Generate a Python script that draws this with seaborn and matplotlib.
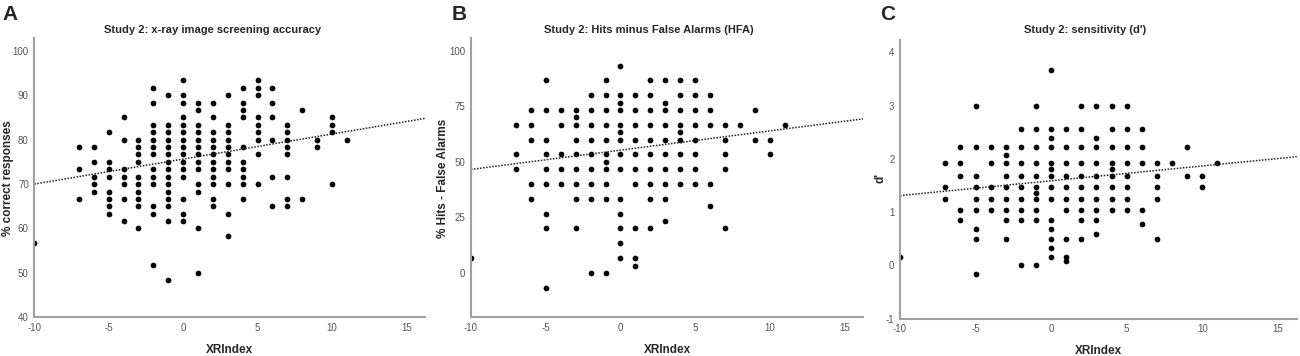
import numpy as np
import pandas as pd
import seaborn as sns
import matplotlib.pyplot as plt

# XRIndex -> values (overlapping points show once)
accuracy = {
    -10: [56.67],
    -7: [78.33, 73.33, 66.67],
    -6: [78.33, 75, 71.67, 70, 68.33],
    -5: [81.67, 75, 73.33, 71.67, 68.33, 66.67, 65, 63.33],
    -4: [85, 80, 73.33, 71.67, 70, 66.67, 61.67],
    -3: [80, 78.33, 76.67, 75, 71.67, 70, 68.33, 66.67, 65, 60],
    -2: [91.67, 88.33, 83.33, 81.67, 80, 78.33, 76.67, 73.33, 71.67, 70, 65, 63.33, 51.67],
    -1: [90, 83.33, 81.67, 80, 78.33, 76.67, 75, 73.33, 71.67, 70, 68.33, 66.67, 65, 61.67, 48.33],
    0: [93.33, 90, 88.33, 85, 83.33, 81.67, 80, 78.33, 76.67, 75, 73.33, 71.67, 66.67, 63.33, 61.67],
    1: [88.33, 86.67, 83.33, 81.67, 80, 78.33, 76.67, 75, 73.33, 70, 68.33, 60, 50],
    2: [88.33, 85, 81.67, 80, 78.33, 76.67, 75, 73.33, 71.67, 70, 66.67, 65],
    3: [90, 83.33, 81.67, 80, 78.33, 76.67, 75, 73.33, 70, 63.33, 58.33],
    4: [91.67, 88.33, 86.67, 85, 78.33, 75, 73.33, 71.67, 70, 66.67],
    5: [93.33, 91.67, 90, 85, 83.33, 81.67, 80, 76.67, 70],
    6: [91.67, 88.33, 85, 80, 71.67, 65],
    7: [83.33, 81.67, 80, 78.33, 76.67, 71.67, 66.67, 65],
    8: [86.67, 66.67],
    9: [80, 78.33],
    10: [85, 83.33, 81.67, 70],
    11: [80],
}

hfa = {
    -10: [6.67],
    -7: [66.67, 53.33, 46.67],
    -6: [73.33, 66.67, 60, 40, 33.33],
    -5: [86.67, 73.33, 60, 53.33, 46.67, 40, 26.67, 20, -6.67],
    -4: [73.33, 66.67, 53.33, 46.67, 40],
    -3: [73.33, 70, 66.67, 60, 53.33, 46.67, 40, 33.33, 20],
    -2: [80, 73.33, 66.67, 60, 53.33, 46.67, 40, 33.33, 0],
    -1: [86.67, 80, 73.33, 66.67, 60, 53.33, 50, 46.67, 40, 33.33, 0],
    0: [93.33, 80, 76.67, 73.33, 66.67, 63.33, 60, 53.33, 46.67, 33.33, 26.67, 20, 13.33, 6.67],
    1: [80, 73.33, 66.67, 60, 53.33, 46.67, 40, 20, 6.67, 3.33],
    2: [86.67, 80, 73.33, 66.67, 60, 53.33, 46.67, 40, 33.33, 20],
    3: [86.67, 76.67, 73.33, 66.67, 60, 53.33, 46.67, 40, 33.33, 23.33],
    4: [86.67, 80, 73.33, 66.67, 63.33, 60, 53.33, 46.67, 40],
    5: [86.67, 80, 73.33, 66.67, 60, 53.33, 46.67, 40],
    6: [80, 73.33, 66.67, 40, 30],
    7: [66.67, 60, 53.33, 46.67, 20],
    8: [66.67],
    9: [73.33, 60],
    10: [60, 53.33],
    11: [66.67],
}

dprime = {
    -10: [0.16],
    -7: [1.93, 1.47, 1.24],
    -6: [2.22, 1.93, 1.68, 1.04, 0.86],
    -5: [3.0, 2.22, 1.68, 1.47, 1.24, 1.04, 0.68, 0.5, -0.16],
    -4: [2.22, 1.93, 1.47, 1.24, 1.04],
    -3: [2.22, 2.07, 1.93, 1.68, 1.47, 1.24, 1.04, 0.86, 0.5],
    -2: [2.56, 2.22, 1.93, 1.68, 1.47, 1.24, 1.04, 0.86, 0.0],
    -1: [3.0, 2.56, 2.22, 1.93, 1.68, 1.47, 1.35, 1.24, 1.04, 0.86, 0.0],
    0: [3.67, 2.56, 2.4, 2.22, 1.93, 1.8, 1.68, 1.47, 1.24, 0.86, 0.68, 0.5, 0.33, 0.16],
    1: [2.56, 2.22, 1.93, 1.68, 1.47, 1.24, 1.04, 0.5, 0.16, 0.09],
    2: [3.0, 2.56, 2.22, 1.93, 1.68, 1.47, 1.24, 1.04, 0.86, 0.5],
    3: [3.0, 2.4, 2.22, 1.93, 1.68, 1.47, 1.24, 1.04, 0.86, 0.59],
    4: [3.0, 2.56, 2.22, 1.93, 1.8, 1.68, 1.47, 1.24, 1.04],
    5: [3.0, 2.56, 2.22, 1.93, 1.68, 1.47, 1.24, 1.04],
    6: [2.56, 2.22, 1.93, 1.04, 0.77],
    7: [1.93, 1.68, 1.47, 1.24, 0.5],
    8: [1.93],
    9: [2.22, 1.68],
    10: [1.68, 1.47],
    11: [1.93],
}

# linear fit lines as drawn in the figure (value at XRIndex -10 and at right edge 16.25)
fit_ends = [(70.0, 84.8), (46.6, 69.4), (1.31, 2.04)]
fit_x = [-10, 16.25]

panel_letters = ["A", "B", "C"]
titles = ["Study 2: x-ray image screening accuracy",
          "Study 2: Hits minus False Alarms (HFA)",
          "Study 2: sensitivity (d')"]
ylabels = ["% correct responses", "% Hits - False Alarms", "d'"]
yticks = [[40, 50, 60, 70, 80, 90, 100], [0, 25, 50, 75, 100], [-1, 0, 1, 2, 3, 4]]
ylims = [(40, 102.9), (-20, 105.8), (-1, 4.23)]
xticks = [-10, -5, 0, 5, 10, 15]


def to_frame(d, name):
    rows = [(x, v) for x, vals in d.items() for v in vals]
    return pd.DataFrame(rows, columns=["XRIndex", name])


sns.set_style("white")
plt.rcParams["font.family"] = ["Liberation Sans", "DejaVu Sans"]
plt.rcParams["axes.unicode_minus"] = False

fig = plt.figure(figsize=(13, 3.56), dpi=100)
W, H = 1300, 356
# axes boxes in pixels: left, right, top, bottom
boxes = [(34.3, 425, 38, 317.3), (471, 863.3, 38, 317.3), (900, 1296.7, 40, 318.7)]
title_x = [213, 649, 1085]
letter_x = [2, 452, 880]
ylab_x = [8, 443, 880]

for i, (data, col) in enumerate([(accuracy, "acc"), (hfa, "hfa"), (dprime, "dp")]):
    l, r, t, b = boxes[i]
    ax = fig.add_axes([l / W, 1 - b / H, (r - l) / W, (b - t) / H])
    df = to_frame(data, col)
    sns.scatterplot(data=df, x="XRIndex", y=col, ax=ax, s=17, color="black",
                    linewidth=0)
    fit = pd.DataFrame({"XRIndex": fit_x, col: list(fit_ends[i])})
    sns.lineplot(data=fit, x="XRIndex", y=col, ax=ax, color="#222222", lw=1.1,
                 linestyle=(0, (1, 1)))
    ax.set_xlim(-10, 16.25)
    ax.set_ylim(*ylims[i])
    ax.set_xticks(xticks)
    ax.set_yticks(yticks[i])
    for s in ["top", "right"]:
        ax.spines[s].set_visible(False)
    for s in ["left", "bottom"]:
        ax.spines[s].set_color("#a0a0a0")
        ax.spines[s].set_linewidth(1.5)
    ax.tick_params(axis="both", length=3, width=1, color="#909090",
                   labelcolor="#555555", labelsize=7, pad=1, direction="out")
    ax.set_xlabel("XRIndex", fontsize=8.5, fontweight="bold", labelpad=8)
    ax.set_ylabel("")
    fig.text(ylab_x[i] / W, 1 - 178 / H, ylabels[i], rotation=90, fontsize=8.5,
             fontweight="bold", ha="center", va="center")
    fig.text(title_x[i] / W, 1 - 30 / H, titles[i], fontsize=8, fontweight="bold",
             ha="center", va="center")
    fig.text(letter_x[i] / W, 1 - 20 / H, panel_letters[i], fontsize=15,
             fontweight="bold", ha="left", va="baseline")

fig.savefig("out.png", dpi=100)
